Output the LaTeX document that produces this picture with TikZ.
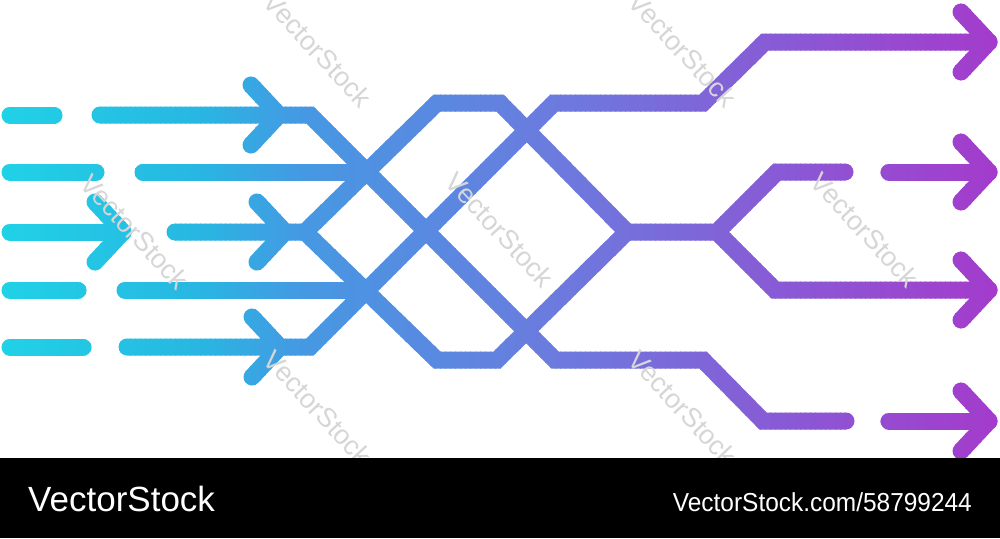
\documentclass[tikz,border=0pt]{standalone}
\usepackage{fontspec}
\setmainfont{Liberation Sans}

\definecolor{netA}{HTML}{20D2E6}
\definecolor{netB}{HTML}{28B6E2}
\definecolor{netC}{HTML}{4599E3}
\definecolor{netD}{HTML}{6C7ADE}
\definecolor{netE}{HTML}{A43BCC}

% all strokes of the network, drawn again for every colour strip
\newcommand{\netlines}{%
  \draw (10,115) -- (54,115);
  \draw (10,172) -- (96,172);
  \draw (10,232) -- (T1);
  \draw (10,290) -- (78,290);
  \draw (10,347) -- (83,347);
  \draw (143,172) -- (368,172);
  \draw (125,290) -- (368,290);
  \draw (100,115) -- (310,115) -- (555,360) -- (703,360) -- (763,421) -- (846,421);
  \draw (127,347) -- (310,347) -- (554,103) -- (703,103) -- (765,42) -- (T5);
  \draw (175,232) -- (S) -- (437,103) -- (500,103) -- (J) -- (F) -- (777,172) -- (845,172);
  \draw (S) -- (437,360) -- (497,360) -- (J);
  \draw (F) -- (775,290) -- (T7);
  \draw (889,172) -- (T6);
  \draw (889,421) -- (T8);
  \foreach \t in {1,...,8}
    \draw[line join=round] ([shift={(-28,-30)}]T\t) -- (T\t) -- ([shift={(-28,30)}]T\t);
}

\begin{document}
\begin{tikzpicture}[x=1pt, y=-1pt,
    net/.style={line width=17pt, line cap=round, line join=miter},
    wmark/.style={font=\fontsize{27}{27}\selectfont, rotate=-47, inner sep=0, text=black!16}]
        \useasboundingbox (0,0) rectangle (1000,538);
        \fill[white] (0,0) rectangle (1000,538);
        \coordinate (S) at (305,232);
        \coordinate (J) at (627,232);
        \coordinate (F) at (717,232);
        \coordinate (T1) at (123,232);
        \coordinate (T2) at (279,115);
        \coordinate (T3) at (285,232);
        \coordinate (T4) at (280,347);
        \coordinate (T5) at (989,42);
        \coordinate (T6) at (989,172);
        \coordinate (T7) at (989,290);
        \coordinate (T8) at (989,421);
        % gradient: the same strokes in thin vertical strips
        \foreach \i in {0,...,199} {
          \pgfmathtruncatemacro\xm{5*\i+2}
          \ifnum\xm<200 \pgfmathtruncatemacro\pc{(200-\xm)/2}\colorlet{stripcol}{netA!\pc!netB}\else
          \ifnum\xm<300 \pgfmathtruncatemacro\pc{(300-\xm)}\colorlet{stripcol}{netB!\pc!netC}\else
          \ifnum\xm<560 \pgfmathtruncatemacro\pc{(560-\xm)/2.6}\colorlet{stripcol}{netC!\pc!netD}\else
          \pgfmathtruncatemacro\pc{(1000-\xm)/4.4}\colorlet{stripcol}{netD!\pc!netE}\fi\fi\fi
          \begin{scope}[net, color=stripcol]
            \clip (5*\i,0) rectangle (5*\i+6,458);
            \netlines
          \end{scope}
        }
        % watermark
        \node[wmark] (wm1) at (135,232) {VectorStock};
        \node[wmark] (wm2) at (318,50) {VectorStock};
        \node[wmark] (wm3) at (318,408) {VectorStock};
        \node[wmark] (wm4) at (500,230) {VectorStock};
        \node[wmark] (wm5) at (683,50) {VectorStock};
        \node[wmark] (wm6) at (683,408) {VectorStock};
        \node[wmark] (wm7) at (865,230) {VectorStock};
        \fill[black] (0,458) rectangle (1000,538);
        \node[anchor=base west, text=white, inner sep=0, font=\fontsize{35}{35}\selectfont] (brand) at (28,511) {VectorStock};
        \node[anchor=base east, text=white, inner sep=0, xscale=0.94, font=\fontsize{26}{26}\selectfont] (imgid) at (972,511) {VectorStock.com/58799244};
\end{tikzpicture}
\end{document}
